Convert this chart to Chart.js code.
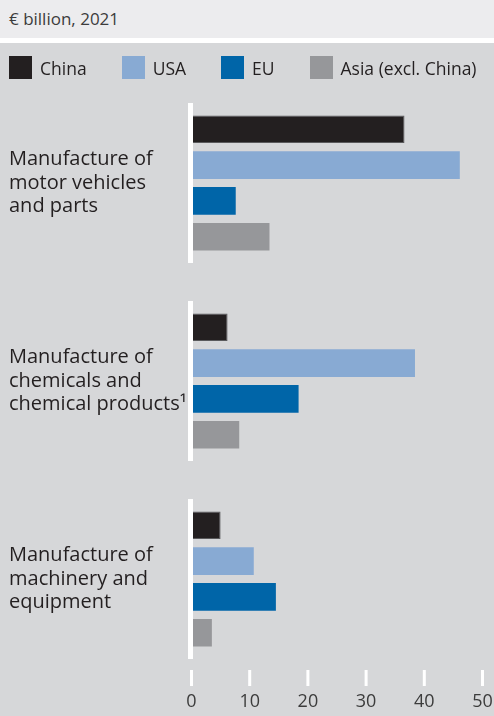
<!DOCTYPE html>
<html>
<head>
<meta charset="utf-8">
<script src="https://cdn.jsdelivr.net/npm/chart.js@4.4.1/dist/chart.umd.min.js"></script>
<style>
  body {
    margin: 0;
    width: 494px;
    height: 716px;
    overflow: hidden;
    position: relative;
    background: #d6d7d9;
    font-family: "Open Sans", sans-serif;
  }
  .unit {
    height: 38px;
    line-height: 38px;
    padding-left: 9px;
    background: #ececee;
    border-bottom: 5px solid #fff;
    color: #3c3c3c;
    font-size: 17px;
  }
  canvas {
    position: absolute;
    top: 43px;
    left: 0;
  }
  .legend {
    position: absolute;
    top: 56px;
    left: 9px;
    display: flex;
    white-space: nowrap;
  }
  .legend-item {
    display: flex;
    flex-shrink: 0;
    align-items: center;
    height: 23px;
    margin-right: 35px;
    color: #231f20;
    font-size: 17.5px;
  }
  .legend-item .box {
    width: 23px;
    height: 23px;
    margin-right: 8px;
  }
</style>
</head>
<body>
<div class="unit">€ billion, 2021</div>
<canvas id="sectorChart" width="494" height="673"></canvas>
<div class="legend"></div>

<script>
// ------------------- Data -------------------

const categories = [
  ["Manufacture of", "motor vehicles", "and parts"],
  ["Manufacture of", "chemicals and", "chemical products¹"],
  ["Manufacture of", "machinery and", "equipment"]
];

const seriesNames = ["China", "USA", "EU", "Asia (excl. China)"];
const seriesColors = ["#231f20", "#88aad3", "#0065a8", "#96979a"];

const china = [36.6, 6.2, 5.0];
const usa = [46.1, 38.4, 10.7];
const eu = [7.6, 18.4, 14.5];
const asia = [13.4, 8.2, 3.5];

const xTicks = [0, 10, 20, 30, 40, 50];

// ------------------- Chart -------------------

const ctx = document.getElementById("sectorChart").getContext("2d");

// white zero line, broken between the sector groups, plus the short white tick marks
const axisMarks = {
  id: "axisMarks",
  afterDatasetsDraw(chart) {
    const { ctx, scales: { x, y }, chartArea } = chart;
    const x0 = x.getPixelForValue(0);
    ctx.save();
    ctx.fillStyle = "#fff";
    categories.forEach((c, i) => {
      const cy = y.getPixelForValue(i);
      ctx.fillRect(x0 - 3.5, cy - 80, 5, 160);
    });
    xTicks.forEach(v => {
      const px = x.getPixelForValue(v);
      ctx.fillRect(px - 1.5, chartArea.bottom - 8, 3, 16);
    });
    ctx.restore();
  }
};

const chart = new Chart(ctx, {
  type: "bar",
  data: {
    labels: categories,
    datasets: [china, usa, eu, asia].map((data, i) => ({
      label: seriesNames[i],
      data: data,
      backgroundColor: seriesColors[i],
      borderColor: i === 0 ? "#5a5a5c" : seriesColors[i],
      borderWidth: i === 0 ? 1 : 0
    }))
  },
  options: {
    indexAxis: "y",
    responsive: false,
    animation: false,
    layout: { padding: { top: 41, left: 9, right: 11.5, bottom: 0 } },
    datasets: {
      bar: { categoryPercentage: 0.723, barPercentage: 0.771 }
    },
    plugins: {
      legend: { display: false },
      tooltip: { enabled: false }
    },
    scales: {
      x: {
        min: 0,
        max: 50,
        afterBuildTicks: scale => { scale.ticks = xTicks.map(v => ({ value: v })); },
        ticks: {
          padding: 13,
          color: "#3c3c3c",
          font: { family: "Open Sans", size: 18 }
        },
        grid: { display: false, drawTicks: false },
        border: { display: false },
        // keep the label padding from squeezing the plot on the right
        afterFit: scale => {
          scale.height = 38;
          scale.paddingLeft = 0;
          scale.paddingRight = 0;
        }
      },
      y: {
        grid: { display: false, drawTicks: false },
        border: { display: false },
        ticks: {
          crossAlign: "far",
          padding: 0,
          color: "#231f20",
          font: { family: "Open Sans", size: 20, lineHeight: 1.175 }
        },
        afterFit: scale => { scale.width = 182.5; }
      }
    }
  },
  plugins: [axisMarks]
});

// ------------------- Legend -------------------

const legend = document.querySelector(".legend");
chart.data.datasets.forEach(ds => {
  const item = document.createElement("div");
  item.classList.add("legend-item");
  item.innerHTML = `<span class="box" style="background:${ds.backgroundColor}"></span>${ds.label}`;
  legend.appendChild(item);
});
</script>
</body>
</html>
